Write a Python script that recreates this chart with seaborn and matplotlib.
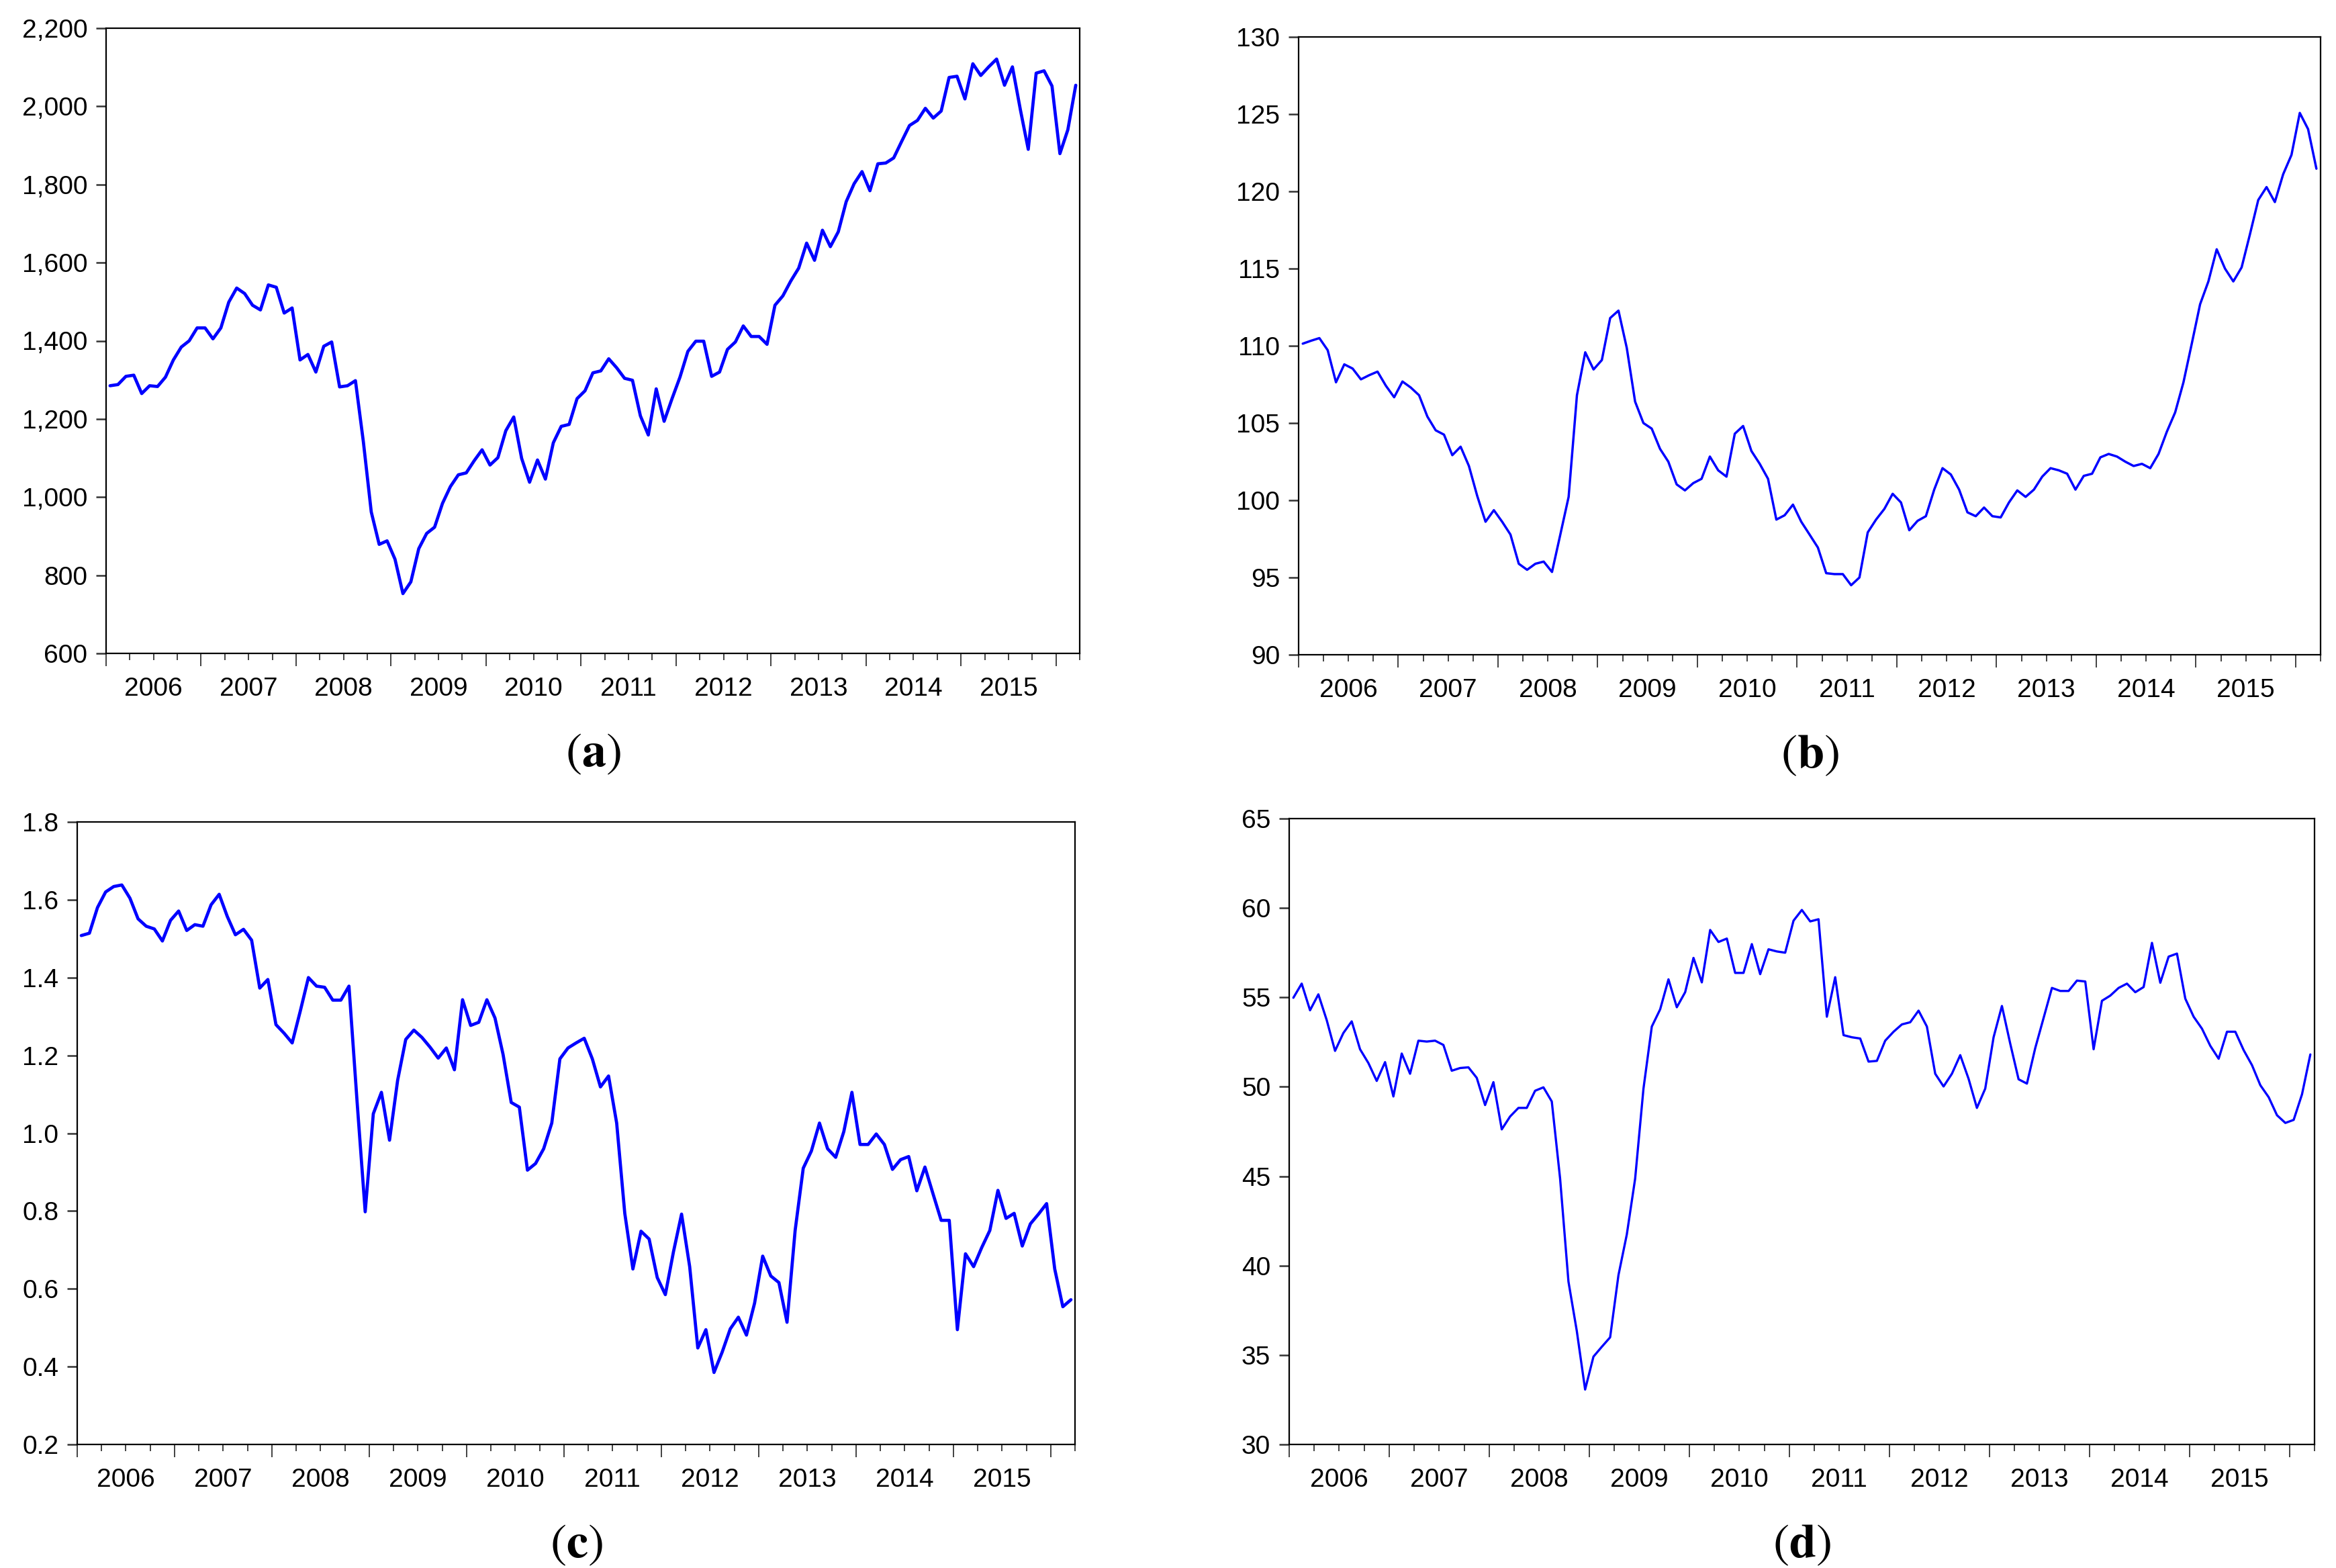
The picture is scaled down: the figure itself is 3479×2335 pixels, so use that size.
import matplotlib
matplotlib.use('Agg')
import matplotlib.pyplot as plt
from matplotlib.ticker import FixedLocator, FuncFormatter
import numpy as np
import pandas as pd
import seaborn as sns

# monthly observations, 2006M01 .. 2016M03
MONTHS = pd.period_range('2006-01', '2016-03', freq='M')
YEARS = ['2006', '2007', '2008', '2009', '2010', '2011', '2012', '2013', '2014', '2015']

SERIES_A = [1285, 1288, 1309, 1312, 1265, 1285, 1283, 1307, 1351, 1384, 1400, 1433,
            1433, 1405, 1433, 1499, 1535, 1521, 1491, 1479, 1543, 1537, 1471, 1484,
            1351, 1365, 1320, 1386, 1397, 1282, 1285, 1298, 1142, 962, 879, 888,
            841, 753, 783, 868, 907, 923, 984, 1027, 1057, 1062, 1093, 1121,
            1082, 1101, 1170, 1205, 1099, 1038, 1095, 1046, 1139, 1181, 1186, 1252,
            1272, 1318, 1323, 1354, 1331, 1304, 1299, 1208, 1159, 1277, 1194, 1252,
            1307, 1373, 1399, 1399, 1309, 1320, 1378, 1397, 1438, 1411, 1411, 1391,
            1491, 1515, 1553, 1586, 1650, 1606, 1683, 1641, 1679, 1756, 1802, 1833,
            1784, 1853, 1855, 1868, 1910, 1951, 1964, 1995, 1970, 1988, 2074, 2077,
            2019, 2109, 2079, 2101, 2121, 2054, 2101, 1992, 1890, 2085, 2091, 2052,
            1879, 1940, 2054]

SERIES_B = [110.14, 110.33, 110.5, 109.72, 107.64, 108.8, 108.53, 107.83, 108.1, 108.33, 107.42, 106.67,
            107.69, 107.3, 106.8, 105.42, 104.53, 104.25, 102.92, 103.47, 102.22, 100.28, 98.61, 99.36,
            98.61, 97.78, 95.89, 95.5, 95.89, 96.03, 95.36, 97.78, 100.22, 106.8, 109.58, 108.47,
            109.08, 111.8, 112.28, 109.86, 106.39, 105.0, 104.64, 103.33, 102.5, 101.03, 100.64, 101.11,
            101.39, 102.83, 101.94, 101.53, 104.31, 104.81, 103.19, 102.36, 101.39, 98.75, 99.03, 99.72,
            98.61, 97.78, 96.94, 95.28, 95.22, 95.22, 94.5, 95.0, 97.92, 98.75, 99.44, 100.42,
            99.86, 98.06, 98.67, 98.97, 100.69, 102.08, 101.67, 100.69, 99.22, 98.97, 99.53, 98.97,
            98.89, 99.86, 100.64, 100.22, 100.69, 101.53, 102.08, 101.94, 101.72, 100.69, 101.58, 101.72,
            102.78, 103.0, 102.83, 102.5, 102.22, 102.36, 102.08, 103.0, 104.44, 105.69, 107.64, 110.14,
            112.69, 114.17, 116.25, 115.0, 114.17, 115.08, 117.22, 119.44, 120.28, 119.31, 121.11, 122.36,
            125.08, 124.03, 121.47]

SERIES_C = [1.508, 1.514, 1.580, 1.620, 1.634, 1.638, 1.604, 1.551, 1.532, 1.525, 1.494, 1.547,
            1.571, 1.521, 1.536, 1.532, 1.587, 1.614, 1.557, 1.510, 1.524, 1.496, 1.373, 1.395,
            1.279, 1.257, 1.232, 1.314, 1.400, 1.378, 1.375, 1.342, 1.342, 1.378, 1.081, 0.798,
            1.050, 1.105, 0.982, 1.136, 1.241, 1.265, 1.246, 1.221, 1.193, 1.219, 1.163, 1.343,
            1.277, 1.285, 1.343, 1.296, 1.202, 1.079, 1.067, 0.905, 0.922, 0.960, 1.026, 1.191,
            1.219, 1.232, 1.244, 1.191, 1.119, 1.147, 1.026, 0.794, 0.651, 0.748, 0.728, 0.629,
            0.585, 0.695, 0.792, 0.657, 0.448, 0.495, 0.385, 0.437, 0.497, 0.527, 0.481, 0.563,
            0.684, 0.633, 0.616, 0.514, 0.750, 0.910, 0.954, 1.026, 0.960, 0.938, 1.004, 1.105,
            0.971, 0.971, 0.998, 0.971, 0.907, 0.932, 0.940, 0.852, 0.913, 0.844, 0.776, 0.776,
            0.495, 0.690, 0.657, 0.706, 0.750, 0.853, 0.781, 0.794, 0.710, 0.767, 0.792, 0.819,
            0.651, 0.554, 0.572]

SERIES_D = [54.98, 55.77, 54.28, 55.17, 53.73, 52.01, 53.01, 53.66, 52.1, 51.33, 50.33, 51.38,
            49.46, 51.86, 50.73, 52.58, 52.53, 52.58, 52.34, 50.9, 51.05, 51.09, 50.5, 48.98,
            50.26, 47.62, 48.34, 48.82, 48.82, 49.78, 49.97, 49.18, 44.86, 39.11, 36.35, 33.07,
            34.91, 35.46, 35.99, 39.47, 41.74, 44.86, 49.9, 53.37, 54.33, 56.01, 54.45, 55.29,
            57.21, 55.84, 58.77, 58.1, 58.29, 56.37, 56.37, 57.98, 56.3, 57.69, 57.57, 57.5,
            59.29, 59.89, 59.25, 59.37, 53.92, 56.13, 52.89, 52.77, 52.7, 51.41, 51.45, 52.58,
            53.08, 53.49, 53.61, 54.26, 53.37, 50.73, 50.02, 50.73, 51.77, 50.45, 48.82, 49.9,
            52.77, 54.52, 52.41, 50.42, 50.18, 52.17, 53.85, 55.53, 55.36, 55.36, 55.94, 55.89,
            52.1, 54.81, 55.1, 55.53, 55.77, 55.29, 55.58, 58.05, 55.82, 57.28, 57.45, 54.93,
            53.92, 53.25, 52.29, 51.57, 53.08, 53.08, 52.05, 51.21, 50.09, 49.42, 48.41, 47.98,
            48.15, 49.58, 51.81]

PANELS = [
    # values, caption, y-limits, y-step, formatter, axes box in pixels (left, top, right, bottom), line width
    (SERIES_A, 'a', (600, 2200), 200, lambda v, p: f'{v:,.0f}', (158, 42, 1608, 973), 3.4),
    (SERIES_B, 'b', (90, 130), 5, lambda v, p: f'{v:.0f}', (1934, 55, 3456, 975), 2.5),
    (SERIES_C, 'c', (0.2, 1.8), 0.2, lambda v, p: f'{v:.1f}', (115, 1224, 1601, 2151), 3.4),
    (SERIES_D, 'd', (30, 65), 5, lambda v, p: f'{v:.0f}', (1920, 1219, 3447, 2151), 2.4),
]

W, H = 3480, 2335

sns.set_theme(style='ticks')
plt.rcParams['font.family'] = ['Liberation Sans', 'DejaVu Sans']
plt.rcParams['mathtext.fontset'] = 'stix'

fig = plt.figure(figsize=(W / 100, H / 100), dpi=100)
fig.patch.set_facecolor('white')

n = len(MONTHS)
month_idx = np.arange(n)
year_edges = np.arange(-0.5, n, 12)
quarter_edges = np.arange(-0.5, n, 3)
year_centres = year_edges[:len(YEARS)] + 6

for values, caption, ylim, ystep, fmt, box, lw in PANELS:
    left, top, right, bottom = box
    ax = fig.add_axes([left / W, 1 - bottom / H, (right - left) / W, (bottom - top) / H])
    df = pd.DataFrame({'month': month_idx, 'value': values})
    sns.lineplot(data=df, x='month', y='value', ax=ax, color='#0000ff', linewidth=lw)

    ax.set_xlim(-0.5, n - 0.5)
    ax.set_ylim(*ylim)
    ax.yaxis.set_major_locator(FixedLocator(np.arange(ylim[0], ylim[1] + ystep / 2, ystep)))
    ax.yaxis.set_major_formatter(FuncFormatter(fmt))
    ax.set_xlabel('')
    ax.set_ylabel('')
    ax.set_facecolor('white')
    for sp in ax.spines.values():
        sp.set_visible(True)
        sp.set_color('black')
        sp.set_linewidth(1.6)

    ax.xaxis.set_major_locator(FixedLocator(year_edges))
    ax.xaxis.set_minor_locator(FixedLocator(quarter_edges))
    ax.set_xticklabels([])
    ax.tick_params(axis='x', which='major', direction='out', length=14, width=1.3, color='#333333')
    ax.tick_params(axis='x', which='minor', direction='out', length=7, width=1.3, color='#333333')
    ax.tick_params(axis='y', which='major', direction='out', length=11, width=1.8,
                   color='#333333', labelsize=28, pad=9, labelcolor='black')

    sec = ax.secondary_xaxis('bottom')
    sec.set_xticks(year_centres, labels=YEARS)
    sec.tick_params(length=0, pad=25, labelsize=28, labelcolor='black')
    sec.spines['bottom'].set_visible(False)

    cx = (left + right) / 2
    fig.text(cx / W, 1 - (bottom + 152) / H, rf'($\mathbf{{{caption}}}$)',
             ha='center', va='center', fontsize=52, family='STIXGeneral', color='black')

fig.savefig('out.png', dpi=100, facecolor='white')
